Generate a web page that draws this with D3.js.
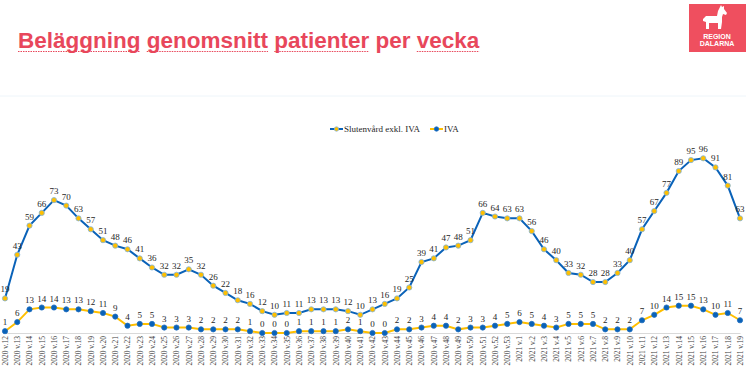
<!DOCTYPE html>
<html>
<head>
<meta charset="utf-8">
<script src="https://cdn.jsdelivr.net/npm/d3@7"></script>
<style>
  body { margin: 0; background: #fff; }
  svg { display: block; }
</style>
</head>
<body>
<svg id="chart" width="746" height="371"></svg>
<script>
// weeks 2020 v.12 .. 2021 v.19
const weeks = [];
for (let w = 12; w <= 53; w++) weeks.push('2020 v.' + w);
for (let w = 1; w <= 19; w++) weeks.push('2021 v.' + w);

const sluten = [19, 43, 59, 66, 73, 70, 63, 57, 51, 48,
  46, 41, 36, 32, 32, 35, 32, 26, 22, 18,
  16, 12, 10, 11, 11, 13, 13, 13, 12, 10,
  13, 16, 19, 25, 39, 41, 47, 48, 51, 66,
  64, 63,
  63, 56, 46, 40, 33, 32, 28, 28, 33, 40,
  57, 67, 77, 89, 95, 96, 91, 81, 63];

const iva = [1, 6, 13, 14, 14, 13, 13, 12, 11, 9,
  4, 5, 5, 3, 3, 3, 2, 2, 2, 2,
  1, 0, 0, 0, 1, 1, 1, 1, 2, 1,
  0, 0, 2, 2, 3, 4, 4, 2, 3, 3,
  4, 5,
  6, 5, 4, 3, 5, 5, 5, 2, 2, 2,
  7, 10, 14, 15, 15, 13, 10, 11, 7];

const seriesNames = ['Slutenvård exkl. IVA', 'IVA'];
const titleText = 'Beläggning genomsnitt patienter per vecka';

const blue = '#0a62b8';
const gold = '#ffbf00';
const red = '#e8475b';

const svg = d3.select('#chart');

// title, with the spell-check style underline under every word but "per"
const title = svg.append('text')
  .attr('x', 18)
  .attr('y', 48)
  .attr('font-family', 'Liberation Sans, Arial, sans-serif')
  .attr('font-weight', 'bold')
  .attr('font-size', 22.5)
  .attr('fill', red)
  .text(titleText);

let pos = 0;
titleText.split(' ').forEach(word => {
  const node = title.node();
  const x0 = 18 + node.getSubStringLength(0, pos);
  const w = node.getSubStringLength(pos, word.length);
  if (word !== 'per') {
    svg.append('line')
      .attr('x1', x0).attr('x2', x0 + w)
      .attr('y1', 51.5).attr('y2', 51.5)
      .attr('stroke', red).attr('stroke-width', 1.2)
      .attr('stroke-dasharray', '1.5,1');
  }
  pos += word.length + 1;
});

// logo
const logo = svg.append('g').attr('transform', 'translate(689,4)');
logo.append('rect').attr('width', 57).attr('height', 48).attr('fill', '#ef4f5f');
logo.append('path')
  .attr('d', 'M14,15 L17,12 L28,12 L29,7 L31,3 L32,1 L33,3 L35,2 L35,5 L38,9 L37,11 L34,10 L33,13 L33,18 L32,25 L29,25 L29,19 L20,19 L20,25 L17,25 L17,18 L14,17 Z')
  .attr('fill', '#fff');
logo.append('text').attr('x', 28).attr('y', 35)
  .attr('text-anchor', 'middle').attr('font-family', 'Liberation Sans, Arial, sans-serif')
  .attr('font-weight', 'bold').attr('font-size', 7).attr('fill', '#fff').text('REGION');
logo.append('text').attr('x', 28).attr('y', 42)
  .attr('text-anchor', 'middle').attr('font-family', 'Liberation Sans, Arial, sans-serif')
  .attr('font-weight', 'bold').attr('font-size', 7).attr('fill', '#fff').text('DALARNA');

// faint separator
svg.append('line').attr('x1', 0).attr('x2', 746).attr('y1', 96).attr('y2', 96)
  .attr('stroke', '#eef5fa').attr('stroke-width', 1);

// scales
const x = d3.scalePoint().domain(weeks).range([5, 740]);
const y = d3.scaleLinear().domain([0, 100]).range([333, 151]);

// x axis
const xAxis = svg.append('g')
  .attr('transform', 'translate(0,333)')
  .call(d3.axisBottom(x).tickSize(0).tickPadding(3));
xAxis.select('.domain').attr('stroke', '#d9d9d9');
xAxis.selectAll('text')
  .attr('font-family', 'Liberation Serif, Times New Roman, serif')
  .attr('font-size', 7.5)
  .attr('fill', '#404040')
  .attr('transform', 'rotate(-90)')
  .attr('x', -3)
  .attr('y', 0)
  .attr('dy', '0.32em')
  .style('text-anchor', 'end');

const lineGen = d3.line()
  .x((d, i) => x(weeks[i]))
  .y(d => y(d));

function drawSeries(values, lineColor, markerFill, markerStroke) {
  svg.append('path')
    .datum(values)
    .attr('d', lineGen)
    .attr('fill', 'none')
    .attr('stroke', lineColor)
    .attr('stroke-width', 2);

  svg.append('g').selectAll('circle')
    .data(values)
    .enter()
    .append('circle')
    .attr('cx', (d, i) => x(weeks[i]))
    .attr('cy', d => y(d))
    .attr('r', 2.6)
    .attr('fill', markerFill)
    .attr('stroke', markerStroke)
    .attr('stroke-width', 0.8);

  svg.append('g').selectAll('text')
    .data(values)
    .enter()
    .append('text')
    .attr('x', (d, i) => x(weeks[i]))
    .attr('y', d => y(d) - 6)
    .attr('text-anchor', 'middle')
    .attr('font-family', 'Liberation Serif, Times New Roman, serif')
    .attr('font-size', 9)
    .attr('fill', '#262626')
    .text(d => d);
}

drawSeries(iva, gold, blue, '#1f6fc0');
drawSeries(sluten, blue, gold, '#7fb4e0');

// legend
const legendItems = [
  { name: seriesNames[0], line: blue, fill: gold, stroke: '#7fb4e0', x: 330 },
  { name: seriesNames[1], line: gold, fill: blue, stroke: '#1f6fc0', x: 430 }
];
const legend = svg.append('g').attr('transform', 'translate(0,129)');
legendItems.forEach(it => {
  legend.append('line').attr('x1', it.x).attr('x2', it.x + 13)
    .attr('stroke', it.line).attr('stroke-width', 2);
  legend.append('circle').attr('cx', it.x + 6.5).attr('r', 2.2)
    .attr('fill', it.fill).attr('stroke', it.stroke).attr('stroke-width', 0.8);
  legend.append('text').attr('x', it.x + 14).attr('dy', '0.32em')
    .attr('font-family', 'Liberation Serif, Times New Roman, serif')
    .attr('font-size', 9).attr('fill', '#262626')
    .text(it.name);
});
</script>
</body>
</html>
